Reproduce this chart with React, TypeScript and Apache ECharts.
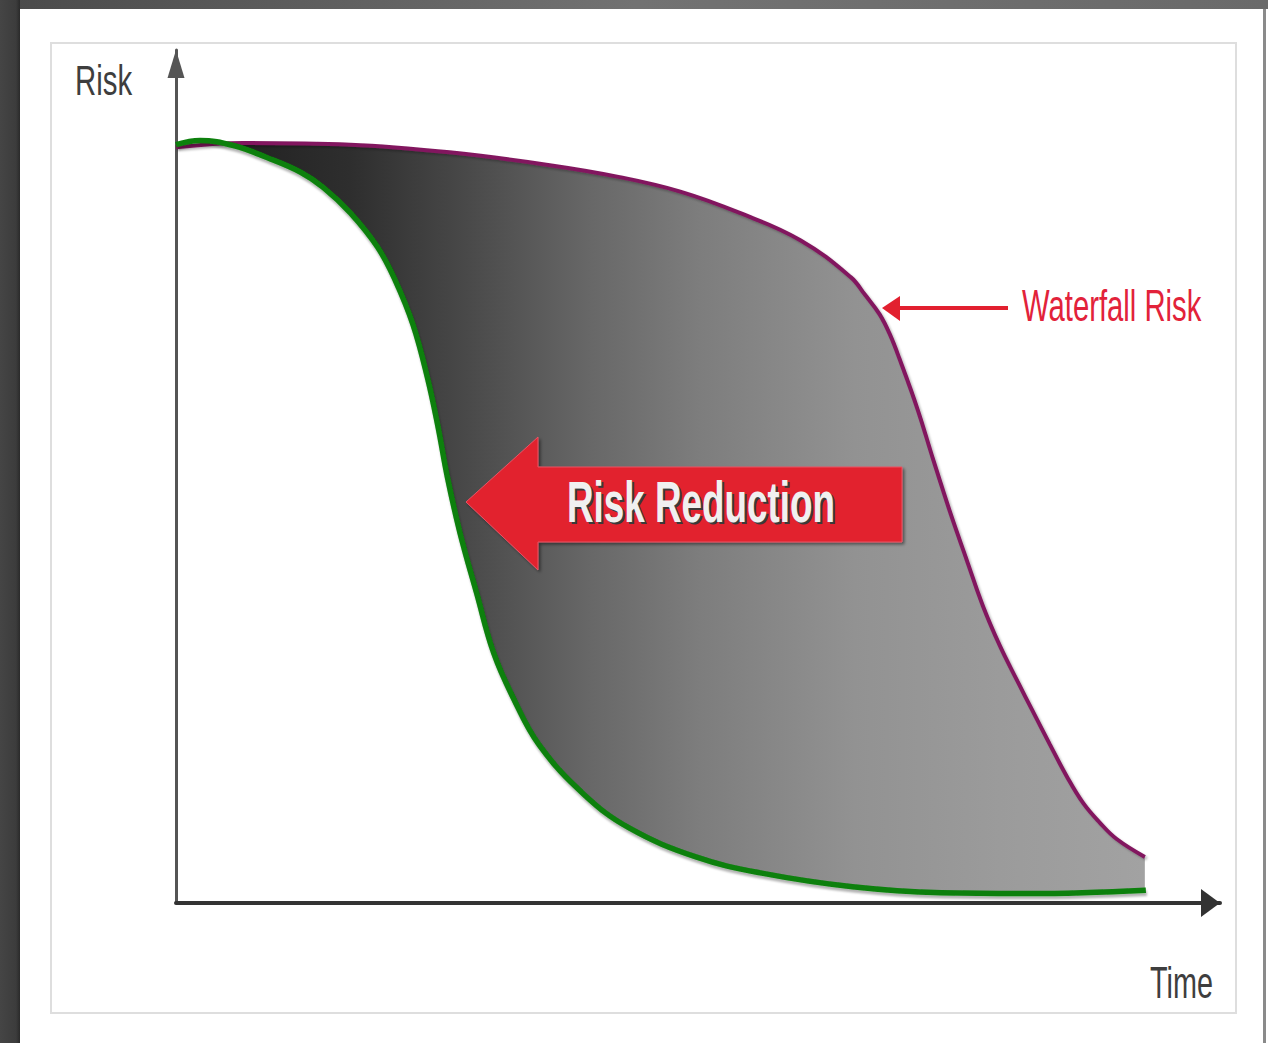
import { useEffect, useRef } from "react";
import * as echarts from "echarts";

// Risk over time (0–100 on both axes) for the two delivery approaches.
const waterfallTime = [0, 6.4, 16.7, 26.2, 35.8, 42.5, 48.3, 54.0, 59.8, 64.6, 66.0, 67.4, 68.4, 69.3, 71.0, 72.5, 74.1, 75.8, 77.3, 78.9, 80.6, 82.1, 83.7, 85.3, 86.9, 88.5, 90.1, 92.8];
const waterfallRisk = [88.6, 89.1, 88.9, 88.0, 86.5, 85.1, 83.4, 80.9, 77.7, 73.4, 71.3, 69.0, 66.6, 63.8, 58.0, 52.1, 46.0, 40.0, 34.8, 30.2, 26.0, 22.4, 18.6, 14.9, 11.7, 9.4, 7.5, 5.4];

const agileTime = [0, 2.3, 5.5, 8.7, 11.9, 14.1, 16.7, 19.3, 21.0, 22.7, 24.1, 25.1, 26.0, 27.2, 28.8, 30.4, 32.2, 34.8, 39.1, 43.4, 49.8, 56.1, 64.8, 73.3, 81.8, 92.9];
const agileRisk = [88.9, 89.4, 88.8, 87.4, 85.7, 83.9, 80.9, 76.9, 73.0, 67.8, 61.5, 55.8, 49.9, 43.4, 36.3, 29.4, 24.3, 18.5, 12.7, 8.8, 5.4, 3.5, 1.9, 1.2, 1.1, 1.5];

const axisNames = { y: "Risk", x: "Time" };
const curveLabel = "Waterfall Risk";
const gapLabel = "Risk Reduction";

const PURPLE = "#82195e";
const GREEN = "#0a800a";
const RED = "#e2202f";

const pairs = (xs: number[], ys: number[]) => xs.map((x, i) => [x, ys[i]]);

function textEl(
  text: string,
  x: number,
  y: number,
  size: number,
  color: string,
  scaleX: number,
  weight: string = "normal"
) {
  return {
    type: "text",
    x,
    y,
    scaleX,
    z: 20,
    style: {
      text,
      fontSize: size,
      fontFamily: "Liberation Sans, Arial, sans-serif",
      fontWeight: weight,
      fill: color,
      align: "left",
      verticalAlign: "middle",
      textAlign: "left",
      textVerticalAlign: "middle",
    },
  };
}

export default function App() {
  const ref = useRef<HTMLDivElement>(null);

  useEffect(() => {
    if (!ref.current) return;
    const chart = echarts.init(ref.current, undefined, { renderer: "svg" });

    const lineBase = {
      type: "line",
      smooth: 0.4,
      symbol: "none",
      silent: true,
    };

    const option: any = {
      animation: false,
      backgroundColor: "#ffffff",
      grid: { left: 176, right: 48, top: 50, bottom: 140 },
      xAxis: {
        type: "value",
        min: 0,
        max: 100,
        z: 3,
        axisLine: {
          show: true,
          onZero: false,
          symbol: ["none", "triangle"],
          symbolSize: [28, 19],
          symbolOffset: [0, -9.5],
          lineStyle: { color: "#333333", width: 4 },
        },
        axisTick: { show: false },
        axisLabel: { show: false },
        splitLine: { show: false },
      },
      yAxis: {
        type: "value",
        min: 0,
        max: 100,
        z: 3,
        axisLine: {
          show: true,
          onZero: false,
          symbol: ["none", "triangle"],
          symbolSize: [17, 28],
          symbolOffset: [0, -14],
          lineStyle: { color: "#555555", width: 3 },
        },
        axisTick: { show: false },
        axisLabel: { show: false },
        splitLine: { show: false },
      },
      series: [
        {
          ...lineBase,
          name: "waterfall-area",
          z: 1,
          data: pairs(waterfallTime, waterfallRisk),
          lineStyle: { width: 0 },
          areaStyle: {
            opacity: 1,
            color: new echarts.graphic.LinearGradient(0, 0, 1, 0, [
              { offset: 0, color: "#1c1c1c" },
              { offset: 0.18, color: "#2e2e2e" },
              { offset: 0.3, color: "#494949" },
              { offset: 0.43, color: "#686868" },
              { offset: 0.54, color: "#7d7d7d" },
              { offset: 0.7, color: "#929292" },
              { offset: 0.85, color: "#9b9b9b" },
              { offset: 1, color: "#a2a2a2" },
            ]),
          },
        },
        {
          ...lineBase,
          name: "agile-mask",
          z: 2,
          data: pairs(agileTime, agileRisk),
          lineStyle: { width: 0 },
          areaStyle: { opacity: 1, color: "#ffffff" },
        },
        {
          ...lineBase,
          name: "Waterfall",
          z: 4,
          data: pairs(waterfallTime, waterfallRisk),
          lineStyle: {
            color: PURPLE,
            width: 4,
            shadowColor: "rgba(0,0,0,0.25)",
            shadowOffsetX: 2,
            shadowOffsetY: 2,
            shadowBlur: 2,
          },
        },
        {
          ...lineBase,
          name: "Agile",
          z: 5,
          data: pairs(agileTime, agileRisk),
          lineStyle: {
            color: GREEN,
            width: 5.5,
            shadowColor: "rgba(0,0,0,0.3)",
            shadowOffsetX: 1,
            shadowOffsetY: 3,
            shadowBlur: 2,
          },
        },
      ],
      graphic: [
        // page frame
        { type: "rect", z: 0, shape: { x: 0, y: 0, width: 1268, height: 9 },
          style: { fill: new echarts.graphic.LinearGradient(0, 0, 1, 0, [
            { offset: 0, color: "#4a4a4a" }, { offset: 0.5, color: "#727272" }, { offset: 1, color: "#6a6a6a" },
          ]) } },
        { type: "rect", z: 0, shape: { x: 0, y: 0, width: 20, height: 1043 },
          style: { fill: new echarts.graphic.LinearGradient(0, 0, 1, 0, [
            { offset: 0, color: "#454545" }, { offset: 0.8, color: "#3c3c3c" }, { offset: 1, color: "#2a2a2a" },
          ]) } },
        { type: "rect", z: 0, shape: { x: 1263, y: 9, width: 3, height: 1034 }, style: { fill: "#8a8a8a" } },
        { type: "rect", z: 0, shape: { x: 51, y: 43, width: 1185, height: 970 },
          style: { fill: "none", stroke: "#dedede", lineWidth: 2 } },
        // axis titles
        textEl(axisNames.y, 75, 81, 42, "#3e3e3e", 0.7),
        textEl(axisNames.x, 1150, 983, 45, "#3e3e3e", 0.64),
        // annotation pointing at the waterfall curve
        { type: "line", z: 20, shape: { x1: 1008, y1: 308, x2: 896, y2: 308 },
          style: { stroke: RED, lineWidth: 4 } },
        { type: "polygon", z: 20, shape: { points: [[882, 308], [900, 296], [900, 321]] },
          style: { fill: RED } },
        textEl(curveLabel, 1022, 306, 45, "#e2223a", 0.65),
        // risk reduction arrow
        { type: "polygon", z: 20,
          shape: { points: [[466, 502], [538, 437], [538, 467], [902, 467], [902, 542], [538, 542], [538, 570]] },
          style: { fill: RED, stroke: "#ea5465", lineWidth: 1,
            shadowColor: "rgba(0,0,0,0.45)", shadowOffsetX: 2, shadowOffsetY: 2, shadowBlur: 3 } },
        textEl(gapLabel, 569, 504, 58, "#3a3a3a", 0.635, "bold"),
        textEl(gapLabel, 567, 502, 58, "#f0f0f0", 0.635, "bold"),
      ],
    };

    chart.setOption(option);
    return () => chart.dispose();
  }, []);

  return (
    <div
      ref={ref}
      style={{ position: "absolute", left: 0, top: 0, width: 1268, height: 1043 }}
    />
  );
}
